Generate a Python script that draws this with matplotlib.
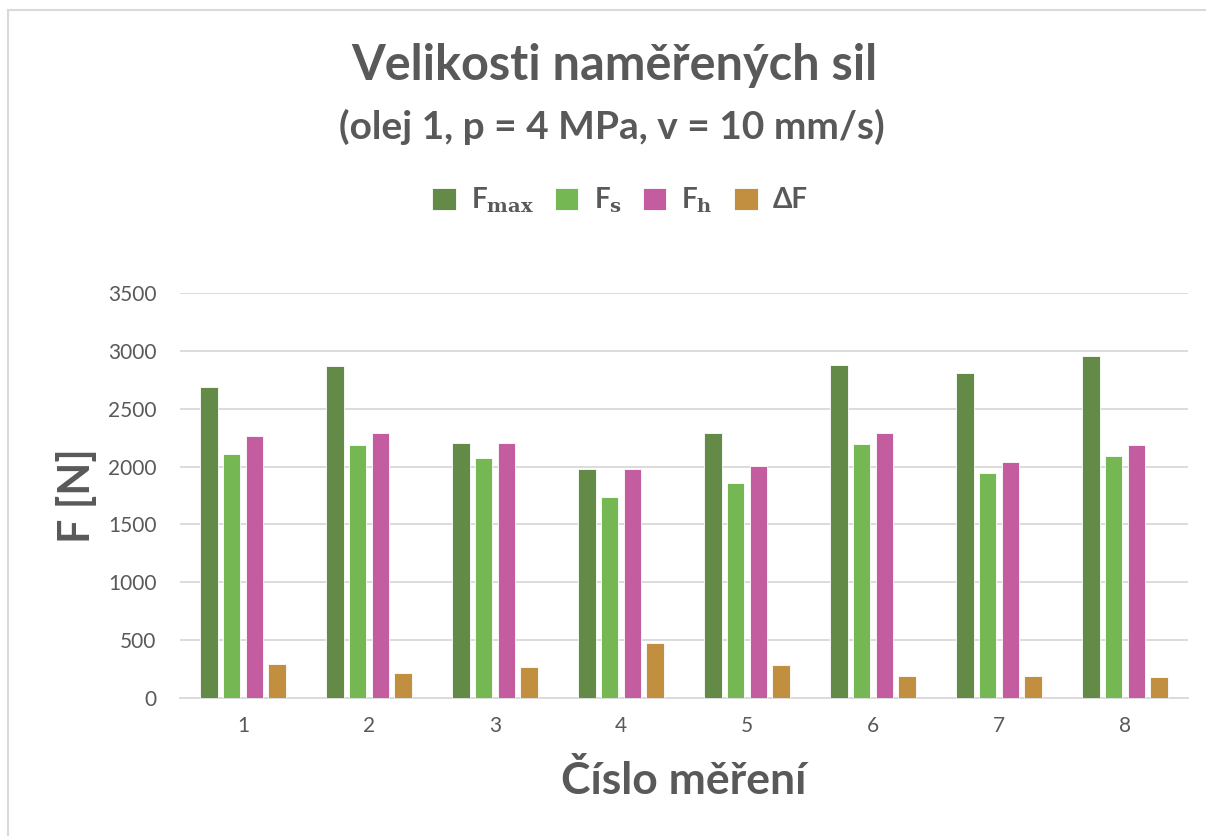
import numpy as np
import matplotlib
matplotlib.use("Agg")
from matplotlib import pyplot as plt
from matplotlib.patches import Rectangle

# data
mereni = ["1", "2", "3", "4", "5", "6", "7", "8"]
f_max = [2685, 2866, 2206, 1976, 2288, 2880, 2805, 2955]
f_s = [2112, 2189, 2073, 1737, 1861, 2198, 1944, 2091]
f_h = [2261, 2290, 2206, 1976, 2005, 2290, 2036, 2183]
delta_f = [297, 213, 271, 478, 285, 187, 187, 181]
y_ticks = [0, 500, 1000, 1500, 2000, 2500, 3000, 3500]

labels = [r"F$_{\mathbf{max}}$", r"F$_{\mathbf{s}}$", r"F$_{\mathbf{h}}$", "ΔF"]
colors = ["#638A46", "#75B853", "#C45CA0", "#C28E40"]
text_color = "#595959"

plt.rcParams["font.family"] = ["Lato", "DejaVu Sans"]
plt.rcParams["mathtext.fontset"] = "dejavuserif"

fig = plt.figure(figsize=(12.06, 8.36), dpi=100)
ax = fig.add_axes([180 / 1206, 1 - 698 / 836, 1008 / 1206, 405 / 836])

# outer frame like in excel
fig.patches.append(Rectangle((8 / 1206, -0.1), 1.2, 1 - 9.5 / 836 + 0.1,
                             transform=fig.transFigure, fill=False,
                             edgecolor="#D9D9D9", linewidth=1.5))

x = np.arange(len(mereni))
step = 0.18
width = 0.14
series = [f_max, f_s, f_h, delta_f]
for i, vals in enumerate(series):
    ax.bar(x + (i - 1.5) * step, vals, width, color=colors[i], label=labels[i],
           edgecolor="white", linewidth=0.6, zorder=3)

ax.set_xlim(-0.5, len(mereni) - 0.5)
ax.set_ylim(0, 3500)
ax.set_yticks(y_ticks)
ax.set_xticks(x)
ax.set_xticklabels(mereni)
ax.yaxis.grid(True, color="#D9D9D9", linewidth=1.3, zorder=0)
for s in ["top", "right", "left"]:
    ax.spines[s].set_visible(False)
ax.spines["bottom"].set_color("#D9D9D9")
ax.spines["bottom"].set_linewidth(1.3)
ax.tick_params(axis="both", length=0, labelsize=15, colors=text_color)
ax.tick_params(axis="y", pad=17)
ax.tick_params(axis="x", pad=13)

ax.set_ylabel("F [N]", fontsize=31, fontweight="bold", color=text_color, labelpad=8)
ax.set_xlabel("Číslo měření", fontsize=32, fontweight="bold", color=text_color, labelpad=17)

fig.text(614 / 1206, 1 - 65 / 836, "Velikosti naměřených sil", ha="center", va="center",
         fontsize=35, fontweight="bold", color=text_color)
fig.text(612 / 1206, 1 - 127 / 836, "(olej 1, p = 4 MPa, v = 10 mm/s)", ha="center", va="center",
         fontsize=28, fontweight="bold", color=text_color)

leg = fig.legend(loc="center", bbox_to_anchor=(620 / 1206, 1 - 200 / 836), ncol=4, frameon=False,
                 handlelength=0.85, handleheight=0.85, handletextpad=0.55, columnspacing=0.75,
                 prop={"size": 20, "weight": "bold"})
for t in leg.get_texts():
    t.set_color(text_color)

plt.savefig("out.png", dpi=100, facecolor="white")
